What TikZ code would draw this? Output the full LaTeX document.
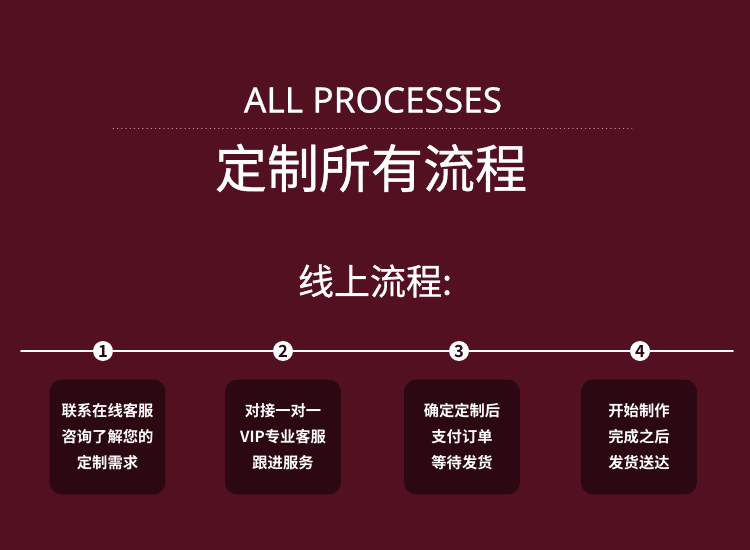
\documentclass[tikz,border=0pt]{standalone}
\usepackage{fontspec}
\usetikzlibrary{positioning}
\setmainfont{Noto Sans}
\newfontfamily\cjk[BoldFont={Noto Sans CJK SC Bold}]{Noto Sans CJK SC}
\newfontfamily\cjkmed[FakeBold=0.7]{Noto Sans CJK SC}
\newfontfamily\latmed[FakeBold=0.6]{Noto Sans}
\definecolor{bgred}{HTML}{531020}
\definecolor{boxred}{HTML}{2C0912}
\definecolor{dotline}{HTML}{B98A92}
\begin{document}
\begin{tikzpicture}[x=0.02cm,y=-0.02cm,line cap=round]
	\tikzset{every node/.style={text=white},
		numdot/.style={circle,fill=white,inner sep=0pt,minimum size=0.4cm,text=boxred,font=\cjk\bfseries\fontsize{9.5}{9.5}\selectfont},
		stepbox/.style={fill=boxred,rounded corners=7pt,minimum width=2.32cm,minimum height=2.3cm,align=center,font=\cjk\bfseries\fontsize{8.7}{14.8}\selectfont}}
	\fill[bgred] (0,0) rectangle (750,550);
	\node[font=\latmed\fontsize{20}{24}\selectfont] (en) at (373,100) {ALL PROCESSES};
	\draw[dotline,dotted,thin] (113,128)--(632,128);
	\node[font=\cjkmed\fontsize{29.6}{32}\selectfont] (title) at (371,168) {定制所有流程};
	\node[font=\cjkmed\fontsize{20.5}{24}\selectfont] (sub) at (375,281) {线上流程:};
	\coordinate (lineL) at (21,351);
	\coordinate (lineR) at (733,351);
	\draw[white,line width=1.1pt] (lineL)--(lineR);
	\foreach \i/\x/\bx/\txt in {1/103/107.5/{联系在线客服\\咨询了解您的\\定制需求},
		2/283/283/{对接一对一\\VIP专业客服\\跟进服务},
		3/459/462/{确定定制后\\支付订单\\等待发货},
		4/640/639/{开始制作\\完成之后\\发货送达}}{
		\node[numdot] (n\i) at (\x,351) {\i};
		\node[stepbox] (s\i) at (\bx,437) {\txt};
	}
\end{tikzpicture}
\end{document}
